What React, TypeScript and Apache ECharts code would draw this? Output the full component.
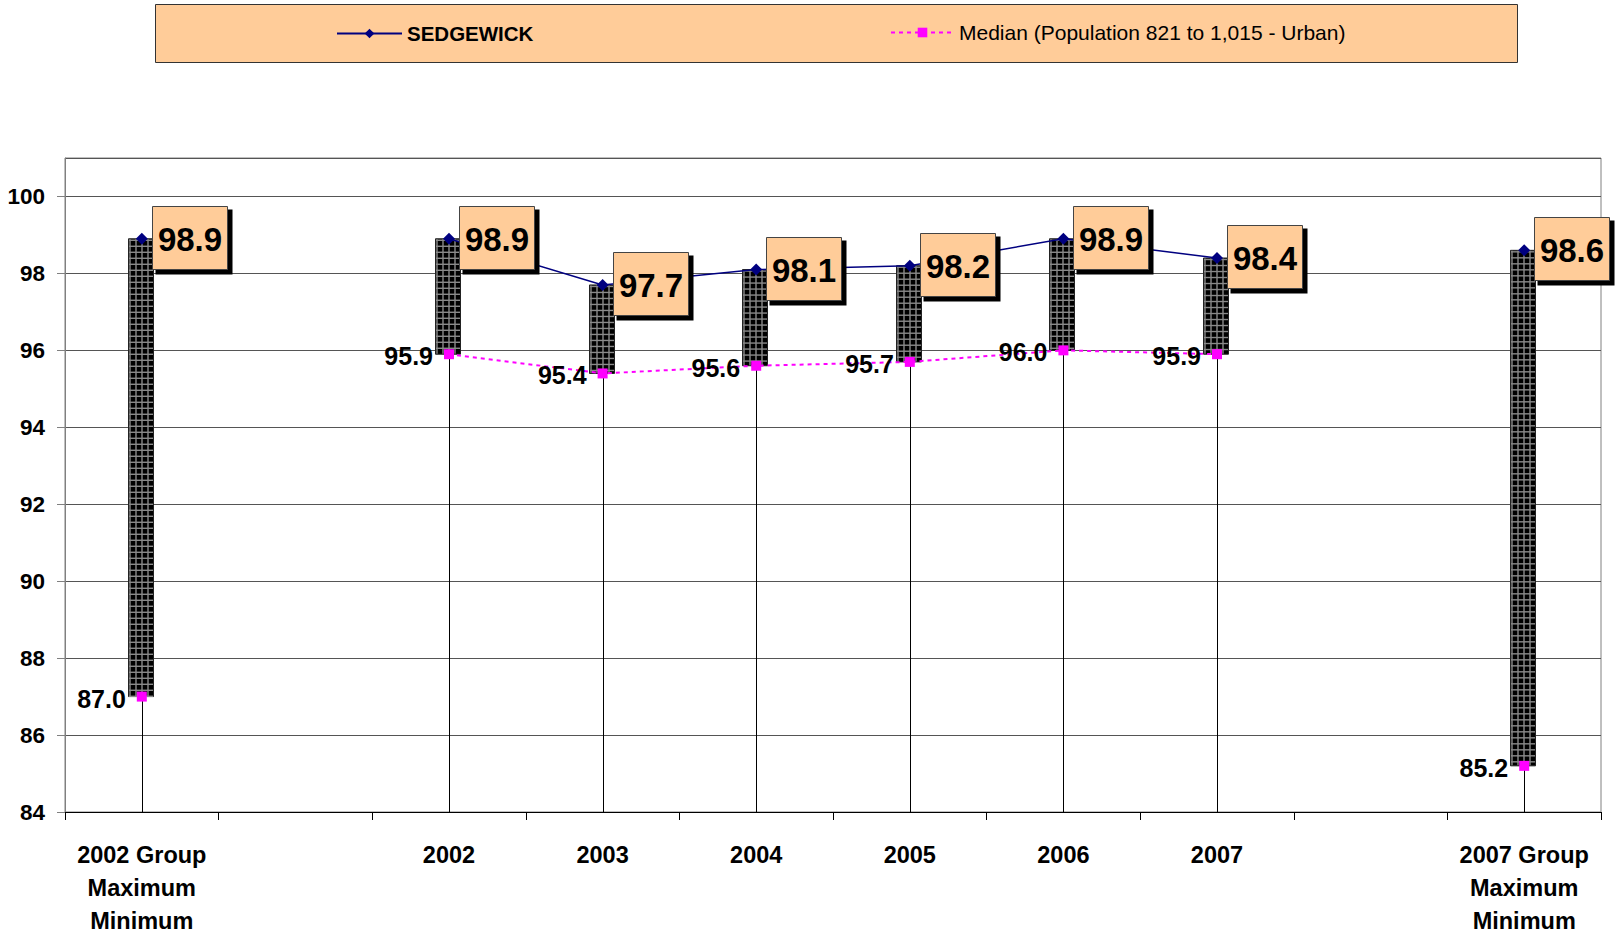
import React, { useEffect, useRef } from "react";
import * as echarts from "echarts";

// ---- data ----
const years = ["2002", "2003", "2004", "2005", "2006", "2007"];
const sedgewick = [98.9, 97.7, 98.1, 98.2, 98.9, 98.4];
const median = [95.9, 95.4, 95.6, 95.7, 96.0, 95.9];
const groupLabels = ["2002 Group\nMaximum\nMinimum", "2007 Group\nMaximum\nMinimum"];
const groupMax = [98.9, 98.6];
const groupMin = [87.0, 85.2];
const Y_MIN = 84;
const Y_MAX = 101;
const Y_INTERVAL = 2;
const SERIES_NAME = "SEDGEWICK";
const MEDIAN_NAME = "Median (Population 821 to 1,015 - Urban)";

const categories = [groupLabels[0], " ", ...years, "  ", groupLabels[1]];
const highs: (number | null)[] = [groupMax[0], null, ...sedgewick, null, groupMax[1]];
const lows: (number | null)[] = [groupMin[0], null, ...median, null, groupMin[1]];

const FF = '"Liberation Sans", Arial, sans-serif';

export default function App() {
  const ref = useRef<HTMLDivElement>(null);

  useEffect(() => {
    if (!ref.current) return;
    const chart = echarts.init(ref.current, null, { renderer: "svg", width: 1616, height: 937 });

    const barData: number[][] = [];
    const labelData: number[][] = [];
    categories.forEach((_, i) => {
      const h = highs[i];
      const l = lows[i];
      if (h != null && l != null) barData.push([i, l, h]);
      if (h != null) labelData.push([i, h]);
    });

    const option: any = {
      animation: false,
      backgroundColor: "#fff",
      textStyle: { fontFamily: FF },
      graphic: {
        elements: [
          {
            type: "rect",
            z: 0,
            silent: true,
            shape: { x: 155.5, y: 4.5, width: 1362, height: 58 },
            style: { fill: "#FFCC99", stroke: "#333", lineWidth: 1 },
          },
        ],
      },
      legend: [
        {
          data: [SERIES_NAME],
          left: 336,
          top: 23,
          padding: 0,
          itemWidth: 65,
          itemHeight: 12,
          selectedMode: false,
          z: 10,
          textStyle: {
            fontFamily: FF,
            fontWeight: "bold",
            fontSize: 20.5,
            color: "#000",
          },
        },
        {
          data: [MEDIAN_NAME],
          left: 890,
          top: 22,
          padding: 0,
          itemWidth: 63,
          itemHeight: 12,
          selectedMode: false,
          z: 10,
          textStyle: { fontFamily: FF, fontSize: 21, color: "#000" },
        },
      ],
      grid: {
        left: 65,
        right: 15,
        top: 158,
        bottom: 122,
        show: true,
        borderColor: "#808080",
        borderWidth: 1,
        containLabel: false,
      },
      xAxis: {
        type: "category",
        data: categories,
        boundaryGap: true,
        axisLine: { lineStyle: { color: "#000", width: 1 } },
        axisTick: { show: true, length: 8, interval: 0, alignWithLabel: false, lineStyle: { color: "#000" } },
        axisLabel: {
          interval: 0,
          color: "#000",
          fontFamily: FF,
          fontWeight: "bold",
          fontSize: 23.5,
          lineHeight: 33,
          margin: 26,
        },
        splitLine: { show: false },
      },
      yAxis: {
        type: "value",
        min: Y_MIN,
        max: Y_MAX,
        interval: Y_INTERVAL,
        axisLine: { show: true, lineStyle: { color: "#808080" } },
        axisTick: { show: true, length: 8, lineStyle: { color: "#808080" } },
        axisLabel: {
          color: "#000",
          fontFamily: FF,
          fontWeight: "bold",
          fontSize: 22.5,
          margin: 20,
          showMaxLabel: false,
          formatter: (v: number) => (v > 100 ? "" : String(v)),
        },
        splitLine: { show: true, lineStyle: { color: "#555", width: 1 } },
      },
      series: [
        {
          type: "custom",
          name: "range",
          z: 2,
          silent: true,
          data: barData,
          encode: { x: 0, y: [1, 2] },
          renderItem: (params: any, api: any) => {
            const idx = api.value(0);
            const lo = api.value(1);
            const hi = api.value(2);
            const pTop = api.coord([idx, hi]);
            const pBot = api.coord([idx, lo]);
            const pAxis = api.coord([idx, Y_MIN]);
            const cx = Math.round(pTop[0]);
            const w = 25;
            const left = cx - 13.5;
            const top = pTop[1];
            const bottom = pBot[1];
            const children: any[] = [];
            children.push({
              type: "line",
              shape: { x1: cx + 0.5, y1: bottom, x2: cx + 0.5, y2: pAxis[1] },
              style: { stroke: "#000", lineWidth: 1 },
            });
            children.push({
              type: "rect",
              shape: { x: left, y: top, width: w, height: bottom - top },
              style: { fill: "#000", stroke: "#222", lineWidth: 1 },
            });
            for (let x = left + 1.5; x < left + w; x += 6) {
              children.push({
                type: "line",
                shape: { x1: x, y1: top + 0.5, x2: x, y2: bottom - 0.5 },
                style: { stroke: "#8a8a8a", lineWidth: 1.4 },
              });
            }
            for (let y = top + 1.5; y < bottom; y += 6) {
              children.push({
                type: "line",
                shape: { x1: left + 0.5, y1: y, x2: left + w - 0.5, y2: y },
                style: { stroke: "#8a8a8a", lineWidth: 1.4 },
              });
            }
            return { type: "group", children };
          },
        },
        {
          type: "line",
          name: SERIES_NAME,
          z: 3,
          data: highs.map((v) => (v == null ? "-" : v)),
          connectNulls: false,
          symbol: "diamond",
          symbolSize: 12,
          lineStyle: { color: "#000080", width: 1.5 },
          itemStyle: { color: "#000080" },
          label: { show: false },
        },
        {
          type: "line",
          name: MEDIAN_NAME,
          z: 3,
          data: lows.map((v) => (v == null ? "-" : v)),
          connectNulls: false,
          symbol: "rect",
          symbolSize: 10,
          lineStyle: { color: "#FF00FF", width: 2, type: [4, 4] },
          itemStyle: { color: "#FF00FF" },
          label: {
            show: true,
            position: "left",
            distance: 11,
            offset: [0, 2],
            color: "#000",
            fontFamily: FF,
            fontWeight: "bold",
            fontSize: 25,
            formatter: (p: any) => Number(p.value).toFixed(1),
          },
        },
        {
          type: "custom",
          name: "maxLabels",
          z: 5,
          silent: true,
          data: labelData,
          encode: { x: 0, y: 1 },
          renderItem: (params: any, api: any) => {
            const idx = api.value(0);
            const hi = api.value(1);
            const p = api.coord([idx, hi]);
            const w = 75;
            const h = 63;
            const bx = Math.round(p[0]) + 10.5;
            const by = Math.round(p[1] - 33) + 0.5;
            return {
              type: "group",
              children: [
                {
                  type: "rect",
                  shape: { x: bx + 3, y: by + 3, width: w + 2, height: h + 2 },
                  style: { fill: "#000" },
                },
                {
                  type: "rect",
                  shape: { x: bx, y: by, width: w, height: h },
                  style: { fill: "#FFCC99", stroke: "#444", lineWidth: 1 },
                },
                {
                  type: "text",
                  style: {
                    text: Number(hi).toFixed(1),
                    x: bx + w / 2,
                    y: by + h / 2 + 1,
                    align: "center",
                    verticalAlign: "middle",
                    fontFamily: FF,
                    fontWeight: "bold",
                    fontSize: 33,
                    fill: "#000",
                  },
                },
              ],
            };
          },
        },
      ],
    };

    chart.setOption(option);
    return () => chart.dispose();
  }, []);

  return (
    <div
      ref={ref}
      style={{ position: "fixed", left: 0, top: 0, width: 1616, height: 937, background: "#fff" }}
    />
  );
}
